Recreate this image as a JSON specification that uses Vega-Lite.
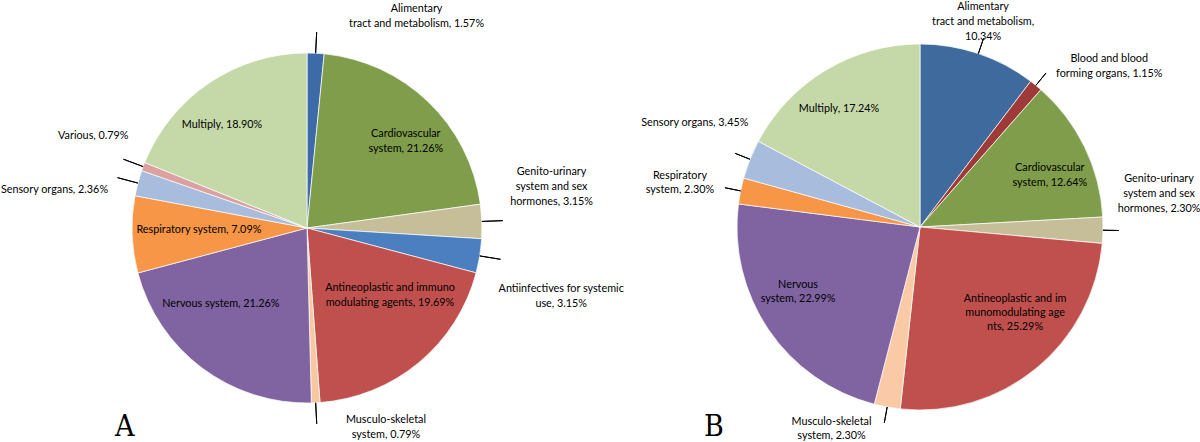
{
  "$schema": "https://vega.github.io/schema/vega-lite/v6.json",
  "padding": 0,
  "bounds": "flush",
  "spacing": 0,
  "background": "white",
  "config": {
    "view": {"stroke": null},
    "text": {"font": "Lato", "fontSize": 10.8, "lineHeight": 15, "color": "#000000", "baseline": "middle", "lineBreak": "\n"}
  },
  "resolve": {"scale": {"color": "independent", "theta": "independent"}},
  "datasets": {
    "pieA": [
      {"idx": 1, "cat": "Alimentary tract and metabolism", "value": 1.57, "label": "Alimentary\ntract and metabolism, 1.57%"},
      {"idx": 2, "cat": "Cardiovascular system", "value": 21.26, "label": "Cardiovascular\nsystem, 21.26%"},
      {"idx": 3, "cat": "Genito-urinary system and sex hormones", "value": 3.15, "label": "Genito-urinary\nsystem and sex\nhormones, 3.15%"},
      {"idx": 4, "cat": "Antiinfectives for systemic use", "value": 3.15, "label": "Antiinfectives for systemic\nuse, 3.15%"},
      {"idx": 5, "cat": "Antineoplastic and immunomodulating agents", "value": 19.69, "label": "Antineoplastic and immuno\nmodulating agents, 19.69%"},
      {"idx": 6, "cat": "Musculo-skeletal system", "value": 0.79, "label": "Musculo-skeletal\nsystem, 0.79%"},
      {"idx": 7, "cat": "Nervous system", "value": 21.26, "label": "Nervous system, 21.26%"},
      {"idx": 8, "cat": "Respiratory system", "value": 7.09, "label": "Respiratory system, 7.09%"},
      {"idx": 9, "cat": "Sensory organs", "value": 2.36, "label": "Sensory organs, 2.36%"},
      {"idx": 10, "cat": "Various", "value": 0.79, "label": "Various, 0.79%"},
      {"idx": 11, "cat": "Multiply", "value": 18.90, "label": "Multiply, 18.90%"}
    ],
    "pieB": [
      {"idx": 1, "cat": "Alimentary tract and metabolism", "value": 10.34, "label": "Alimentary\ntract and metabolism,\n10.34%"},
      {"idx": 2, "cat": "Blood and blood forming organs", "value": 1.15, "label": "Blood and blood\nforming organs, 1.15%"},
      {"idx": 3, "cat": "Cardiovascular system", "value": 12.64, "label": "Cardiovascular\nsystem, 12.64%"},
      {"idx": 4, "cat": "Genito-urinary system and sex hormones", "value": 2.30, "label": "Genito-urinary\nsystem and sex\nhormones, 2.30%"},
      {"idx": 5, "cat": "Antineoplastic and immunomodulating agents", "value": 25.29, "label": "Antineoplastic and im\nmunomodulating age\nnts, 25.29%"},
      {"idx": 6, "cat": "Musculo-skeletal system", "value": 2.30, "label": "Musculo-skeletal\nsystem, 2.30%"},
      {"idx": 7, "cat": "Nervous system", "value": 22.99, "label": "Nervous\nsystem, 22.99%"},
      {"idx": 8, "cat": "Respiratory system", "value": 2.30, "label": "Respiratory\nsystem, 2.30%"},
      {"idx": 9, "cat": "Sensory organs", "value": 3.45, "label": "Sensory organs, 3.45%"},
      {"idx": 10, "cat": "Multiply", "value": 17.24, "label": "Multiply, 17.24%"}
    ]
  },
  "hconcat": [
    {
      "width": 612,
      "height": 454,
      "data": {"name": "pieA"},
      "title": {"text": "A", "orient": "bottom", "anchor": "start", "frame": "group", "offset": -19, "dx": 114, "baseline": "alphabetic", "font": "'DejaVu Serif Condensed', 'Liberation Serif', serif", "fontSize": 30, "fontWeight": "normal", "color": "#000000"},
      "encoding": {
        "theta": {"field": "value", "type": "quantitative", "stack": true},
        "order": {"field": "idx", "type": "quantitative"}
      },
      "layer": [
        {
          "mark": {"type": "arc", "outerRadius": 175, "stroke": "#ffffff", "strokeWidth": 0.7},
          "encoding": {
            "color": {"field": "cat", "type": "nominal", "legend": null,
              "scale": {
                "domain": ["Alimentary tract and metabolism", "Cardiovascular system", "Genito-urinary system and sex hormones", "Antiinfectives for systemic use", "Antineoplastic and immunomodulating agents", "Musculo-skeletal system", "Nervous system", "Respiratory system", "Sensory organs", "Various", "Multiply"],
                "range": ["#3D6BA7", "#7F9D4A", "#C5BE98", "#4C7FC0", "#C0504D", "#FAC8A0", "#8064A2", "#F79646", "#A8BCDD", "#DBA0A0", "#C5D8A8"]
              }}
          }
        },
        {
          "mark": {"type": "arc", "innerRadius": 175, "outerRadius": 196, "padAngle": 3, "filled": false, "stroke": "#000000", "strokeWidth": 1},
          "encoding": {
            "strokeOpacity": {"condition": {"test": "indexof([1,3,4,6,9,10], datum.idx) >= 0", "value": 1}, "value": 0}
          }
        },
        {"transform": [{"window": [{"op": "sum", "field": "value", "as": "cum"}], "sort": [{"field": "idx"}], "frame": [null, 0]}, {"filter": "datum.idx === 1"}],
         "mark": {"type": "text", "radius": 219, "dx": 88, "dy": -1},
         "encoding": {"theta": {"field": "cum", "type": "quantitative", "stack": null}, "text": {"field": "label"}}},
        {"transform": [{"window": [{"op": "sum", "field": "value", "as": "cum"}], "sort": [{"field": "idx"}], "frame": [null, 0]}, {"filter": "datum.idx === 2"}],
         "mark": {"type": "text", "radius": 131, "dx": -31, "dy": -76},
         "encoding": {"theta": {"field": "cum", "type": "quantitative", "stack": null}, "text": {"field": "label"}}},
        {"transform": [{"window": [{"op": "sum", "field": "value", "as": "cum"}], "sort": [{"field": "idx"}], "frame": [null, 0]}, {"filter": "datum.idx === 3"}],
         "mark": {"type": "text", "radius": 244, "dx": 1, "dy": -71},
         "encoding": {"theta": {"field": "cum", "type": "quantitative", "stack": null}, "text": {"field": "label"}}},
        {"transform": [{"window": [{"op": "sum", "field": "value", "as": "cum"}], "sort": [{"field": "idx"}], "frame": [null, 0]}, {"filter": "datum.idx === 4"}],
         "mark": {"type": "text", "radius": 263, "dx": 0, "dy": -6},
         "encoding": {"theta": {"field": "cum", "type": "quantitative", "stack": null}, "text": {"field": "label"}}},
        {"transform": [{"window": [{"op": "sum", "field": "value", "as": "cum"}], "sort": [{"field": "idx"}], "frame": [null, 0]}, {"filter": "datum.idx === 5"}],
         "mark": {"type": "text", "radius": 107, "dx": 75, "dy": -47},
         "encoding": {"theta": {"field": "cum", "type": "quantitative", "stack": null}, "text": {"field": "label"}}},
        {"transform": [{"window": [{"op": "sum", "field": "value", "as": "cum"}], "sort": [{"field": "idx"}], "frame": [null, 0]}, {"filter": "datum.idx === 6"}],
         "mark": {"type": "text", "radius": 199, "dx": 74, "dy": -7},
         "encoding": {"theta": {"field": "cum", "type": "quantitative", "stack": null}, "text": {"field": "label"}}},
        {"transform": [{"window": [{"op": "sum", "field": "value", "as": "cum"}], "sort": [{"field": "idx"}], "frame": [null, 0]}, {"filter": "datum.idx === 7"}],
         "mark": {"type": "text", "radius": 115, "dx": 25, "dy": 46},
         "encoding": {"theta": {"field": "cum", "type": "quantitative", "stack": null}, "text": {"field": "label"}}},
        {"transform": [{"window": [{"op": "sum", "field": "value", "as": "cum"}], "sort": [{"field": "idx"}], "frame": [null, 0]}, {"filter": "datum.idx === 8"}],
         "mark": {"type": "text", "radius": 108, "dx": -2, "dy": 22},
         "encoding": {"theta": {"field": "cum", "type": "quantitative", "stack": null}, "text": {"field": "label"}}},
        {"transform": [{"window": [{"op": "sum", "field": "value", "as": "cum"}], "sort": [{"field": "idx"}], "frame": [null, 0]}, {"filter": "datum.idx === 9"}],
         "mark": {"type": "text", "radius": 200, "dx": -10, "dy": 28, "align": "right"},
         "encoding": {"theta": {"field": "cum", "type": "quantitative", "stack": null}, "text": {"field": "label"}}},
        {"transform": [{"window": [{"op": "sum", "field": "value", "as": "cum"}], "sort": [{"field": "idx"}], "frame": [null, 0]}, {"filter": "datum.idx === 10"}],
         "mark": {"type": "text", "radius": 200, "dx": 7, "dy": -17, "align": "right"},
         "encoding": {"theta": {"field": "cum", "type": "quantitative", "stack": null}, "text": {"field": "label"}}},
        {"transform": [{"window": [{"op": "sum", "field": "value", "as": "cum"}], "sort": [{"field": "idx"}], "frame": [null, 0]}, {"filter": "datum.idx === 11"}],
         "mark": {"type": "text", "radius": 133, "dx": -85, "dy": 30},
         "encoding": {"theta": {"field": "cum", "type": "quantitative", "stack": null}, "text": {"field": "label"}}}
      ]
    },
    {
      "width": 614,
      "height": 452,
      "data": {"name": "pieB"},
      "title": {"text": "B", "orient": "bottom", "anchor": "start", "frame": "group", "offset": -17, "dx": 91, "baseline": "alphabetic", "font": "'DejaVu Serif Condensed', 'Liberation Serif', serif", "fontSize": 30, "fontWeight": "normal", "color": "#000000"},
      "encoding": {
        "theta": {"field": "value", "type": "quantitative", "stack": true},
        "order": {"field": "idx", "type": "quantitative"}
      },
      "layer": [
        {
          "mark": {"type": "arc", "outerRadius": 183, "stroke": "#ffffff", "strokeWidth": 0.7},
          "encoding": {
            "color": {"field": "cat", "type": "nominal", "legend": null,
              "scale": {
                "domain": ["Alimentary tract and metabolism", "Blood and blood forming organs", "Cardiovascular system", "Genito-urinary system and sex hormones", "Antineoplastic and immunomodulating agents", "Musculo-skeletal system", "Nervous system", "Respiratory system", "Sensory organs", "Multiply"],
                "range": ["#3F6A9D", "#9E3A38", "#7F9D4A", "#C5BE98", "#C0504D", "#FAC9A5", "#8064A2", "#F79646", "#A8BCDD", "#C5D8A8"]
              }}
          }
        },
        {
          "mark": {"type": "arc", "innerRadius": 183, "outerRadius": 199, "padAngle": 3, "filled": false, "stroke": "#000000", "strokeWidth": 1},
          "encoding": {
            "strokeOpacity": {"condition": {"test": "indexof([1,2,4,6,8,9], datum.idx) >= 0", "value": 1}, "value": 0}
          }
        },
        {"transform": [{"window": [{"op": "sum", "field": "value", "as": "cum"}], "sort": [{"field": "idx"}], "frame": [null, 0]}, {"filter": "datum.idx === 1"}],
         "mark": {"type": "text", "radius": 220, "dx": -70, "dy": -45},
         "encoding": {"theta": {"field": "cum", "type": "quantitative", "stack": null}, "text": {"field": "label"}}},
        {"transform": [{"window": [{"op": "sum", "field": "value", "as": "cum"}], "sort": [{"field": "idx"}], "frame": [null, 0]}, {"filter": "datum.idx === 2"}],
         "mark": {"type": "text", "radius": 250, "dx": 24, "dy": 20},
         "encoding": {"theta": {"field": "cum", "type": "quantitative", "stack": null}, "text": {"field": "label"}}},
        {"transform": [{"window": [{"op": "sum", "field": "value", "as": "cum"}], "sort": [{"field": "idx"}], "frame": [null, 0]}, {"filter": "datum.idx === 3"}],
         "mark": {"type": "text", "radius": 140, "dx": -10, "dy": -51},
         "encoding": {"theta": {"field": "cum", "type": "quantitative", "stack": null}, "text": {"field": "label"}}},
        {"transform": [{"window": [{"op": "sum", "field": "value", "as": "cum"}], "sort": [{"field": "idx"}], "frame": [null, 0]}, {"filter": "datum.idx === 4"}],
         "mark": {"type": "text", "radius": 240, "dx": 0, "dy": -70},
         "encoding": {"theta": {"field": "cum", "type": "quantitative", "stack": null}, "text": {"field": "label"}}},
        {"transform": [{"window": [{"op": "sum", "field": "value", "as": "cum"}], "sort": [{"field": "idx"}], "frame": [null, 0]}, {"filter": "datum.idx === 5"}],
         "mark": {"type": "text", "radius": 120, "dx": 108, "dy": -47, "lineHeight": 14},
         "encoding": {"theta": {"field": "cum", "type": "quantitative", "stack": null}, "text": {"field": "label"}}},
        {"transform": [{"window": [{"op": "sum", "field": "value", "as": "cum"}], "sort": [{"field": "idx"}], "frame": [null, 0]}, {"filter": "datum.idx === 6"}],
         "mark": {"type": "text", "radius": 214, "dx": -35, "dy": -12, "lineHeight": 14},
         "encoding": {"theta": {"field": "cum", "type": "quantitative", "stack": null}, "text": {"field": "label"}}},
        {"transform": [{"window": [{"op": "sum", "field": "value", "as": "cum"}], "sort": [{"field": "idx"}], "frame": [null, 0]}, {"filter": "datum.idx === 7"}],
         "mark": {"type": "text", "radius": 135, "dx": 12, "dy": 75, "lineHeight": 14},
         "encoding": {"theta": {"field": "cum", "type": "quantitative", "stack": null}, "text": {"field": "label"}}},
        {"transform": [{"window": [{"op": "sum", "field": "value", "as": "cum"}], "sort": [{"field": "idx"}], "frame": [null, 0]}, {"filter": "datum.idx === 8"}],
         "mark": {"type": "text", "radius": 245, "dx": -4, "dy": 15, "lineHeight": 14},
         "encoding": {"theta": {"field": "cum", "type": "quantitative", "stack": null}, "text": {"field": "label"}}},
        {"transform": [{"window": [{"op": "sum", "field": "value", "as": "cum"}], "sort": [{"field": "idx"}], "frame": [null, 0]}, {"filter": "datum.idx === 9"}],
         "mark": {"type": "text", "radius": 200, "dx": 5, "dy": -10, "align": "right"},
         "encoding": {"theta": {"field": "cum", "type": "quantitative", "stack": null}, "text": {"field": "label"}}},
        {"transform": [{"window": [{"op": "sum", "field": "value", "as": "cum"}], "sort": [{"field": "idx"}], "frame": [null, 0]}, {"filter": "datum.idx === 10"}],
         "mark": {"type": "text", "radius": 143, "dx": -81, "dy": 25},
         "encoding": {"theta": {"field": "cum", "type": "quantitative", "stack": null}, "text": {"field": "label"}}}
      ]
    }
  ]
}
